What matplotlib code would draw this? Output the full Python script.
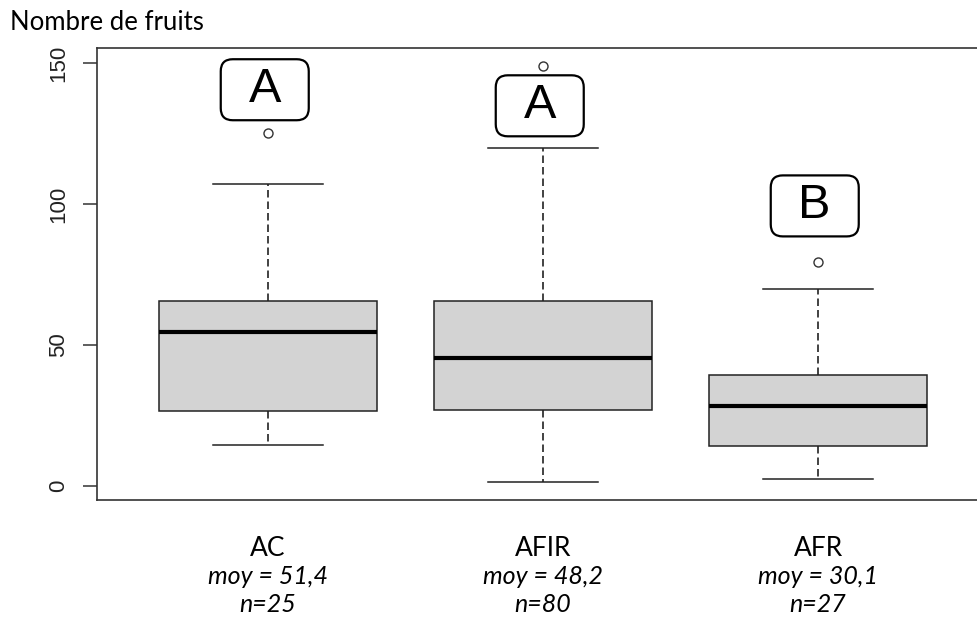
import matplotlib.pyplot as plt
import matplotlib.transforms as mtrans
from matplotlib.patches import FancyBboxPatch

groups = ["AC", "AFIR", "AFR"]
medians = [54.5, 45.5, 28.5]
q1 = [26.5, 27.0, 14.0]
q3 = [65.5, 65.5, 39.5]
whis_low = [14.5, 1.5, 2.5]
whis_high = [107.0, 120.0, 70.0]
outliers = [[125.0], [149.0], [79.5]]
means = ["51,4", "48,2", "30,1"]
counts = [25, 80, 27]
letters = ["A", "A", "B"]
letter_y = [140.5, 134.8, 99.3]

fig = plt.figure(figsize=(9.78, 6.17), dpi=100)
# right edge of the plot region falls just outside the picture
ax = fig.add_axes([97 / 978, 1 - 500 / 617, (988 - 97) / 978, (500 - 48) / 617])

stats = []
for i, g in enumerate(groups):
    stats.append({"label": g, "med": medians[i], "q1": q1[i], "q3": q3[i],
                  "whislo": whis_low[i], "whishi": whis_high[i],
                  "fliers": outliers[i]})

pos = [1, 2, 3]
ax.bxp(stats, positions=pos, widths=0.79, capwidths=0.4, patch_artist=True,
       boxprops=dict(facecolor="#d3d3d3", edgecolor="#222222", linewidth=1.1),
       medianprops=dict(color="black", linewidth=3.0, solid_capstyle="butt"),
       whiskerprops=dict(color="#222222", linewidth=1.2, linestyle=(0, (4.5, 2.4))),
       capprops=dict(color="#222222", linewidth=1.1),
       flierprops=dict(marker="o", markersize=6.5, markerfacecolor="none",
                       markeredgecolor="#333333", markeredgewidth=1.0))

ax.set_xlim(0.378, 3.618)
ax.set_ylim(-5, 155.3)
ax.set_yticks([0, 50, 100, 150])
ax.set_xticks([])
ax.tick_params(axis="y", length=10, width=1.1, color="#333333", pad=10,
               labelsize=16, labelcolor="#222222", labelrotation=90)
for t in ax.get_yticklabels():
    t.set_family("Liberation Sans")
    t.set_verticalalignment("center")
for s in ax.spines.values():
    s.set_linewidth(1.2)
    s.set_color("#333333")

# group names, means and sizes below the axis
for i, g in enumerate(groups):
    ax.annotate(g, xy=(pos[i], 69), xycoords=("data", "figure pixels"),
                ha="center", va="center", fontsize=19, family="Lato")
    ax.annotate("moy = " + means[i], xy=(pos[i], 40), xycoords=("data", "figure pixels"),
                ha="center", va="center", fontsize=18, family="Lato", style="italic")
    ax.annotate("n=" + str(counts[i]), xy=(pos[i], 12), xycoords=("data", "figure pixels"),
                ha="center", va="center", fontsize=18, family="Lato", style="italic")

# significance letters in rounded boxes
for i, l in enumerate(letters):
    x = pos[i] - 0.012
    tr = fig.dpi_scale_trans + mtrans.ScaledTranslation(x, letter_y[i], ax.transData)
    box = FancyBboxPatch((-0.44, -0.305), 0.88, 0.61, boxstyle="round,pad=0,rounding_size=0.12",
                         transform=tr, facecolor="white", edgecolor="black", linewidth=1.6,
                         clip_on=False)
    ax.add_patch(box)
    ax.text(x, letter_y[i], l, ha="center", va="center", fontsize=35,
            family="Liberation Sans", zorder=5)

fig.text(10 / 978, 1 - 22 / 617, "Nombre de fruits", ha="left", va="center",
         fontsize=18.5, family="Lato")

fig.savefig("out.png", dpi=100)
